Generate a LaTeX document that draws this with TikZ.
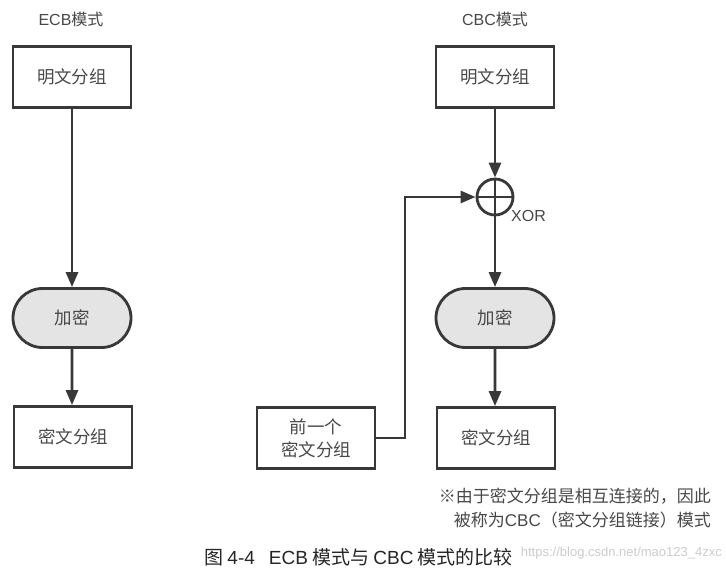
\documentclass[tikz,border=0pt]{standalone}
\usepackage{fontspec}
\setmainfont{Noto Sans CJK SC}
\newfontfamily\latinf{Liberation Sans}
\usetikzlibrary{shapes.misc,arrows.meta}
\definecolor{ln}{HTML}{383838}
\definecolor{tx}{HTML}{484848}
\definecolor{fillg}{HTML}{E4E4E4}
\tikzset{
  box/.style={draw=ln, line width=2.8pt, fill=white, minimum width=118pt, minimum height=61pt, inner sep=0pt, text=tx, font=\fontsize{17.5}{23}\selectfont, align=center},
  stad/.style={draw=ln, line width=2.8pt, fill=fillg, rounded rectangle, minimum width=118pt, minimum height=59pt, inner sep=0pt, text=tx, font=\fontsize{17.5}{23}\selectfont},
  arr/.style={draw=ln, line width=2.8pt, -{Triangle[length=15pt,width=12pt]}},
  lbl/.style={text=tx, font=\fontsize{16}{18}\selectfont, inner sep=0pt},
  xorc/.style={draw=ln, line width=2.8pt, circle, minimum size=36pt, inner sep=0pt}
}
\begin{document}
\begin{tikzpicture}[x=1pt,y=-1pt]
\useasboundingbox[fill=white] (0,0) rectangle (726,572);
% ECB
\node[lbl] (t1) at (71,19) {{\latinf ECB}模式};
\node[box] (p1) at (72,77) {明文分组};
\node[stad] (e1) at (72,318) {加密};
\node[box] (c1) at (73,437) {密文分组};
\draw[arr] (p1) -- (e1);
\draw[arr] (e1) -- (e1 |- c1.north);
% CBC
\node[lbl] (t2) at (495,19) {{\latinf CBC}模式};
\node[box] (p2) at (495,77) {明文分组};
\node[xorc] (x) at (495,197) {};
\draw[ln, line width=2.8pt] (x.north) -- (x.south) (x.west) -- (x.east);
\node[lbl, anchor=west] (xl) at (511,216) {\latinf XOR};
\node[stad] (e2) at (495,318) {加密};
\node[box] (c2) at (496,438) {密文分组};
\node[box] (pv) at (316,438) {前一个\\密文分组};
\coordinate (bend) at (405,0);
\draw[arr] (p2) -- (x);
\draw[arr] (x) -- (e2);
\draw[arr] (e2) -- (e2 |- c2.north);
\draw[arr] (pv.east) -- (pv.east -| bend) |- (x.west);
% note
\node[text=tx, font=\fontsize{17}{23.5}\selectfont, align=right, anchor=north east, inner sep=0pt] (note) at (711,488) {※由于密文分组是相互连接的，因此\\被称为{\latinf CBC}（密文分组链接）模式};
% caption
\node[anchor=west, text=black!85, font=\fontsize{19}{22}\selectfont, inner sep=0pt] (cap) at (204,557) {图 {\latinf 4-4}\hspace{14pt}{\latinf ECB} 模式与 {\latinf CBC} 模式的比较};
% watermark
\node[anchor=east, text=black!20, font=\latinf\fontsize{13}{16}\selectfont, inner sep=0pt] (wm) at (722,553) {https://blog.csdn.net/mao123\_4zxc};
\end{tikzpicture}
\end{document}
